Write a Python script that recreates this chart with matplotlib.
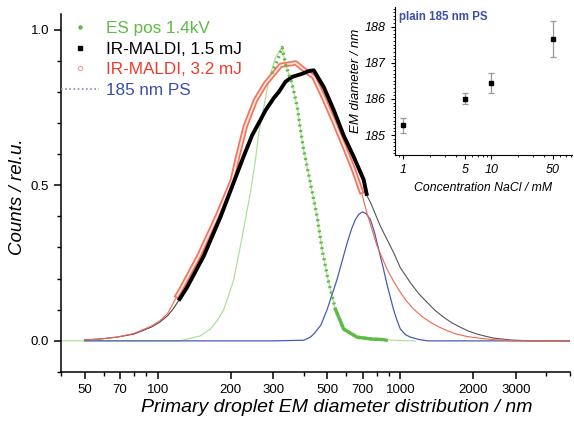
import numpy as np
import matplotlib
matplotlib.use("Agg")
import matplotlib.pyplot as plt
import matplotlib.patheffects as pe
from matplotlib.lines import Line2D
from matplotlib.ticker import FixedLocator, NullFormatter, MultipleLocator

plt.rcParams['font.family'] = ['Liberation Sans', 'DejaVu Sans']

# ES pos 1.4kV: fit curve and measured points (diameter nm, rel. counts)
green_fit_d = [40, 124, 132.5, 150, 165, 176, 187, 196, 206, 220, 230, 241, 253, 261, 274,
               287, 306, 326, 336, 358, 376, 388, 400, 426, 454, 476, 507, 540, 584, 663,
               854, 1000, 1150]
green_fit_v = [0, 0, 0.006, 0.016, 0.038, 0.065, 0.10, 0.145, 0.198, 0.31, 0.39, 0.475,
               0.581, 0.667, 0.752, 0.837, 0.911, 0.943, 0.89, 0.826, 0.752, 0.677, 0.613,
               0.507, 0.40, 0.294, 0.187, 0.102, 0.038, 0.012, 0.004, 0.001, 0]
green_d = [296, 311, 326, 336, 358, 376, 388, 400, 426, 454, 476, 507, 540, 584, 663, 760, 854, 875]
green_v = [0.858, 0.90, 0.943, 0.89, 0.826, 0.752, 0.677, 0.613, 0.507, 0.40, 0.294, 0.187,
           0.102, 0.038, 0.012, 0.006, 0.004, 0.002]

# IR-MALDI 1.5 mJ
black_d = [122, 132, 155, 182, 206, 226, 245, 265, 278, 301, 316, 336, 358, 394, 420, 440,
           484, 532, 584, 642, 706, 729]
black_v = [0.129, 0.171, 0.273, 0.40, 0.51, 0.592, 0.66, 0.709, 0.74, 0.78, 0.80, 0.832,
           0.848, 0.858, 0.867, 0.869, 0.815, 0.741, 0.66, 0.592, 0.518, 0.466]
black_left_d = [50, 58, 68, 80, 94, 102, 110, 116, 122]
black_left_v = [0.003, 0.006, 0.012, 0.022, 0.044, 0.06, 0.081, 0.103, 0.129]
black_right_d = [729, 753, 828, 939, 1000, 1100, 1190, 1288, 1390, 1508, 1630, 1766, 1900,
                 2069, 2240, 2421, 2836, 3430, 5000]
black_right_v = [0.466, 0.445, 0.368, 0.283, 0.235, 0.187, 0.152, 0.124, 0.098, 0.076,
                 0.058, 0.044, 0.032, 0.022, 0.015, 0.009, 0.003, 0.0, 0.0]

# IR-MALDI 3.2 mJ
red_d = [120.5, 126, 148, 176, 203, 215, 230, 253, 278, 321, 353, 370, 400, 440, 484, 532,
         584, 642, 690]
red_v = [0.145, 0.171, 0.273, 0.40, 0.515, 0.60, 0.69, 0.773, 0.826, 0.885, 0.89, 0.893,
         0.872, 0.848, 0.78, 0.706, 0.63, 0.55, 0.48]
red_left_d = [50, 58, 68, 80, 94, 102, 110, 120.5]
red_left_v = [0.003, 0.006, 0.012, 0.024, 0.047, 0.064, 0.088, 0.145]
red_right_d = [690, 729, 802, 882, 940, 1000, 1060, 1134, 1230, 1329, 1440, 1557, 1700,
               1882, 2150, 2421, 2970, 5000]
red_right_v = [0.48, 0.41, 0.305, 0.23, 0.19, 0.156, 0.128, 0.102, 0.078, 0.06, 0.045,
               0.033, 0.022, 0.014, 0.008, 0.004, 0.0, 0.0]

# 185 nm PS
blue_d = [50, 300, 400, 426, 440, 470, 499, 549, 575, 604, 630, 653, 675, 696, 720, 753,
          785, 814, 850, 882, 938, 970, 1000, 1050, 1100, 1200, 1300, 5000]
blue_v = [0, 0, 0.002, 0.012, 0.022, 0.05, 0.10, 0.198, 0.255, 0.315, 0.36, 0.39, 0.407,
          0.414, 0.41, 0.39, 0.345, 0.294, 0.235, 0.18, 0.10, 0.065, 0.038, 0.02, 0.012,
          0.004, 0, 0]

# inset
conc = [1, 5, 10, 50]
em_diam = [185.27, 186.01, 186.44, 187.66]
em_err = [0.21, 0.15, 0.28, 0.5]

x_major = [50, 70, 100, 200, 300, 500, 700, 1000, 2000, 3000]
x_minor = [40, 60, 80, 90, 400, 600, 800, 900, 4000, 5000]

GREEN = '#5DBB46'
GREEN_FIT = '#A8DC92'
RED = '#EE3B2B'
RED_LINE = '#F26650'
BLUE = '#3B4FA8'

fig = plt.figure(figsize=(5.74, 4.21), dpi=100)
ax = fig.add_axes([0.1063, 0.1164, 0.8867, 0.8503])

ax.plot(green_fit_d, green_fit_v, color=GREEN_FIT, lw=0.8, zorder=2)
ax.plot(blue_d, blue_v, color='#4A5BB5', lw=0.9, zorder=3)
ax.plot(black_left_d, black_left_v, color='#444444', lw=0.8, zorder=3)
ax.plot(black_right_d, black_right_v, color='#555555', lw=0.8, zorder=3)
ax.plot(red_left_d, red_left_v, color=RED_LINE, lw=0.8, zorder=3)
ax.plot(red_right_d, red_right_v, color=RED_LINE, lw=0.8, zorder=3)
ax.plot(red_d, red_v, color='#FFE6E0', lw=1.3, zorder=4,
        path_effects=[pe.Stroke(linewidth=3.8, foreground='#F4735C'), pe.Normal()])
ax.plot(black_d, black_v, color='black', lw=2.8, zorder=5, solid_capstyle='butt')
ax.plot(green_d, green_v, color=GREEN, lw=2.4, ls=(0, (0.6, 1.1)), zorder=6)
ax.plot(green_d[12:], green_v[12:], color=GREEN, lw=2.4, zorder=6)

ax.set_xscale('log')
ax.set_xlim(40, 5000)
ax.set_ylim(-0.1, 1.05)
ax.xaxis.set_major_locator(FixedLocator(x_major))
ax.xaxis.set_minor_locator(FixedLocator(x_minor))
ax.set_xticklabels([str(v) for v in x_major])
ax.xaxis.set_minor_formatter(NullFormatter())
ax.yaxis.set_major_locator(FixedLocator([0.0, 0.5, 1.0]))
ax.yaxis.set_minor_locator(MultipleLocator(0.1))
ax.set_yticklabels(['0.0', '0.5', '1.0'])
for s in ['top', 'right']:
    ax.spines[s].set_visible(False)
for s in ['left', 'bottom']:
    ax.spines[s].set_linewidth(1.1)
ax.tick_params(which='major', direction='out', length=5, width=1.1, labelsize=9.5)
ax.tick_params(which='minor', direction='out', length=3, width=1.0)
ax.set_xlabel('Primary droplet EM diameter distribution / nm', fontsize=14, style='italic')
ax.xaxis.set_label_coords(0.542, -0.075, transform=ax.transAxes)
ax.xaxis.label.set_va('top')
ax.set_ylabel('Counts / rel.u.', fontsize=13.5, style='italic')
ax.yaxis.set_label_coords(-0.068, 0.49)

handles = [
    Line2D([], [], ls='none', marker='o', ms=2.2, color=GREEN),
    Line2D([], [], ls='none', marker='s', ms=2.4, color='black'),
    Line2D([], [], ls='none', marker='o', ms=3, mfc='none', mec='#F4A090', mew=0.8),
    Line2D([], [], color='#7F8CC8', lw=1.2, ls=(0, (1, 1.5))),
]
labels = ['ES pos 1.4kV', 'IR-MALDI, 1.5 mJ', 'IR-MALDI, 3.2 mJ', '185 nm PS']
leg = ax.legend(handles, labels, loc='upper left', bbox_to_anchor=(0, 0.98), frameon=False,
                fontsize=12.3, handlelength=2.2, handletextpad=0.42, labelspacing=0.33,
                borderaxespad=0, borderpad=0, numpoints=1)
for t, c in zip(leg.get_texts(), [GREEN, 'black', RED, BLUE]):
    t.set_color(c)

# inset
ins = fig.add_axes([0.6882, 0.632, 0.3083, 0.352])
ins.errorbar(conc, em_diam, yerr=em_err, fmt='s', ms=3.2, color='black',
             ecolor='#999999', elinewidth=0.9, capsize=2, capthick=0.9)
ins.set_xscale('log')
ins.set_xlim(0.81, 82)
ins.set_ylim(184.45, 188.55)
ins.xaxis.set_major_locator(FixedLocator(conc))
ins.set_xticklabels(['1', '5', '10', '50'])
ins.xaxis.set_minor_locator(FixedLocator([0.9, 2, 3, 4, 6, 7, 8, 9, 20, 30, 40, 60, 70, 80]))
ins.xaxis.set_minor_formatter(NullFormatter())
ins.yaxis.set_major_locator(FixedLocator([185, 186, 187, 188]))
ins.yaxis.set_minor_locator(MultipleLocator(0.1))
for s in ['top', 'right']:
    ins.spines[s].set_visible(False)
for s in ['left', 'bottom']:
    ins.spines[s].set_linewidth(0.8)
ins.tick_params(which='major', direction='out', length=3, width=0.8, labelsize=9)
ins.tick_params(which='minor', direction='out', length=1.5, width=0.6)
for lab in ins.get_xticklabels() + ins.get_yticklabels():
    lab.set_style('italic')
ins.set_xlabel('Concentration NaCl / mM', fontsize=8.8, style='italic', labelpad=4)
ins.set_ylabel('EM diameter / nm', fontsize=9.5, style='italic', labelpad=2)
ins.text(0.02, 0.97, 'plain 185 nm PS', transform=ins.transAxes, ha='left', va='top',
         fontsize=8.3, fontweight='bold', color=BLUE)

fig.savefig('out.png', dpi=100)
